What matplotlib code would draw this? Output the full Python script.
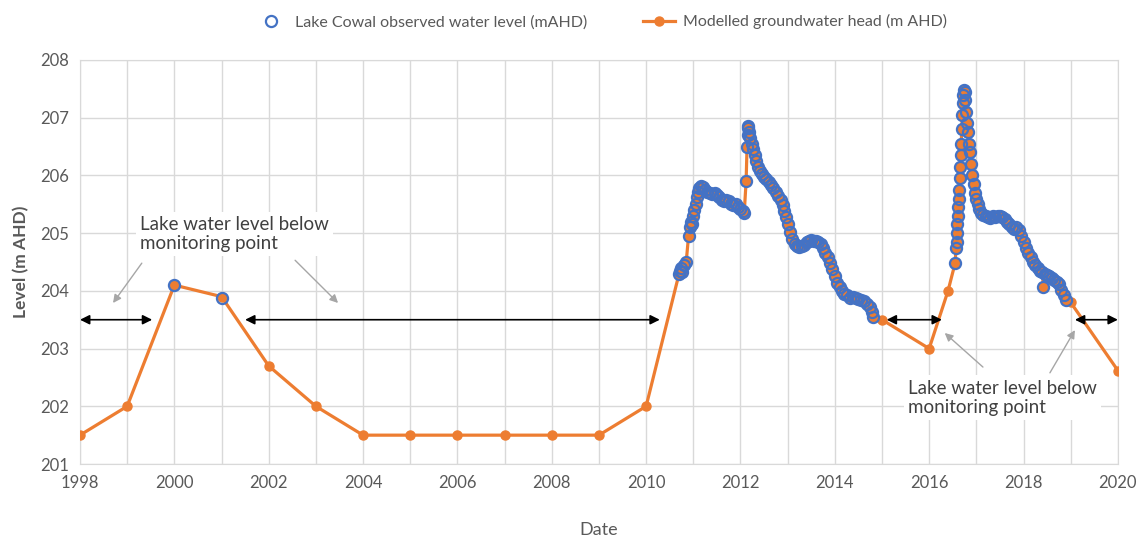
import numpy as np
import matplotlib
matplotlib.use("Agg")
import matplotlib.pyplot as plt

# modelled groundwater head, annual values before the lake filled
model_years = [1998, 1999, 2000, 2001, 2002, 2003, 2004, 2005, 2006, 2007, 2008, 2009, 2010]
model_levels = [201.5, 202.0, 204.1, 203.9, 202.7, 202.0, 201.5, 201.5, 201.5, 201.5, 201.5, 201.5, 202.0]

# modelled points between the two wet periods and after
gap_years = [2015.0, 2016.0, 2016.4]
gap_levels = [203.5, 203.0, 204.0]
tail_years = [2019.0, 2020.0]
tail_levels = [203.8, 202.62]

# observed lake levels (mAHD)
early_obs_years = [2000, 2001]
early_obs_levels = [204.1, 203.88]

obs1_years = [2010.70, 2010.72, 2010.74, 2010.76, 2010.80, 2010.85, 2010.90, 2010.92, 2010.95, 2010.97,
              2011.00, 2011.02, 2011.05, 2011.08, 2011.10, 2011.13, 2011.16, 2011.20, 2011.25, 2011.30,
              2011.35, 2011.40, 2011.45, 2011.50, 2011.55, 2011.60, 2011.65, 2011.70, 2011.75, 2011.80,
              2011.85, 2011.90, 2011.95, 2012.00, 2012.05, 2012.08, 2012.12, 2012.14, 2012.15, 2012.16,
              2012.17, 2012.19, 2012.21, 2012.24, 2012.27, 2012.30, 2012.34, 2012.38, 2012.42, 2012.46,
              2012.50, 2012.55, 2012.60, 2012.65, 2012.70, 2012.75, 2012.80, 2012.85, 2012.90, 2012.93,
              2012.96, 2013.00, 2013.05, 2013.10, 2013.15, 2013.20, 2013.25, 2013.30, 2013.35, 2013.40,
              2013.45, 2013.50, 2013.55, 2013.60, 2013.65, 2013.70, 2013.75, 2013.80, 2013.85, 2013.90,
              2013.95, 2014.00, 2014.05, 2014.10, 2014.15, 2014.20, 2014.26, 2014.32, 2014.38, 2014.44,
              2014.50, 2014.56, 2014.62, 2014.68, 2014.74, 2014.78, 2014.80]
obs1_levels = [204.30, 204.35, 204.40, 204.33, 204.45, 204.50, 204.95, 205.10, 205.20, 205.15,
               205.30, 205.40, 205.50, 205.62, 205.72, 205.78, 205.82, 205.80, 205.75, 205.72,
               205.70, 205.68, 205.70, 205.66, 205.62, 205.58, 205.55, 205.58, 205.55, 205.50,
               205.48, 205.50, 205.45, 205.42, 205.38, 205.35, 205.90, 206.50, 206.70, 206.85,
               206.82, 206.75, 206.65, 206.55, 206.45, 206.35, 206.25, 206.15, 206.08, 206.02,
               205.98, 205.93, 205.88, 205.83, 205.78, 205.72, 205.65, 205.58, 205.48, 205.38,
               205.28, 205.15, 205.02, 204.90, 204.82, 204.78, 204.76, 204.77, 204.80, 204.84,
               204.86, 204.88, 204.87, 204.86, 204.84, 204.82, 204.75, 204.66, 204.58, 204.48,
               204.38, 204.26, 204.14, 204.06, 204.00, 203.95, 203.92, 203.88, 203.90, 203.88,
               203.86, 203.84, 203.82, 203.78, 203.72, 203.64, 203.54]

obs2_years = [2016.55, 2016.57, 2016.58, 2016.59, 2016.60, 2016.61, 2016.62, 2016.63, 2016.64, 2016.65,
              2016.66, 2016.67, 2016.68, 2016.69, 2016.70, 2016.71, 2016.72, 2016.73, 2016.75, 2016.76,
              2016.78, 2016.80, 2016.82, 2016.84, 2016.86, 2016.88, 2016.91, 2016.94, 2016.97, 2017.00,
              2017.03, 2017.06, 2017.10, 2017.15, 2017.20, 2017.25, 2017.30, 2017.35, 2017.40, 2017.45,
              2017.50, 2017.55, 2017.60, 2017.65, 2017.70, 2017.75, 2017.80, 2017.85, 2017.90, 2017.95,
              2018.00, 2018.05, 2018.10, 2018.15, 2018.20, 2018.25, 2018.30, 2018.35, 2018.40, 2018.42,
              2018.45, 2018.50, 2018.55, 2018.60, 2018.65, 2018.70, 2018.75, 2018.80, 2018.85, 2018.90]
obs2_levels = [204.48, 204.75, 204.85, 205.00, 205.15, 205.30, 205.45, 205.60, 205.75, 205.95,
               206.15, 206.35, 206.55, 206.80, 207.05, 207.25, 207.40, 207.48, 207.45, 207.30,
               207.10, 206.90, 206.75, 206.55, 206.40, 206.20, 206.00, 205.85, 205.70, 205.60,
               205.50, 205.42, 205.35, 205.32, 205.30, 205.28, 205.27, 205.30, 205.28, 205.30,
               205.29, 205.28, 205.25, 205.20, 205.15, 205.10, 205.08, 205.10, 205.05, 204.95,
               204.85, 204.75, 204.65, 204.58, 204.50, 204.45, 204.40, 204.35, 204.32, 204.07,
               204.30, 204.28, 204.25, 204.22, 204.18, 204.15, 204.12, 204.02, 203.92, 203.85]

# periods when the lake was below the monitoring point
dry_spans = [(1998.0, 1999.53), (2001.5, 2010.29), (2015.1, 2016.27), (2019.09, 2020.0)]
dry_level = 203.5
note = "Lake water level below\nmonitoring point"

plt.rcParams['font.family'] = ['Lato', 'DejaVu Sans']
blue = '#4472C4'
orange = '#ED7D31'
grey_txt = '#595959'

fig = plt.figure(figsize=(11.38, 5.41), dpi=100)
ax = fig.add_axes([0.0703, 0.1423, 0.912, 0.7468])

mod_x = model_years + obs1_years + gap_years + obs2_years + tail_years
mod_y = model_levels + obs1_levels + gap_levels + obs2_levels + tail_levels
obs_x = early_obs_years + obs1_years + obs2_years
obs_y = early_obs_levels + obs1_levels + obs2_levels

ax.plot(mod_x, mod_y, color=orange, lw=2.3, marker='o', ms=6.5,
        label='Modelled groundwater head (m AHD)', zorder=3)
ax.plot(obs_x, obs_y, ls='none', marker='o', ms=8, mfc='none', mec=blue, mew=1.6,
        label='Lake Cowal observed water level (mAHD)', zorder=4)

# double arrows for the dry periods
for x0, x1 in dry_spans:
    ax.annotate('', xy=(x0, dry_level), xytext=(x1, dry_level),
                arrowprops=dict(arrowstyle='<|-|>', color='black', lw=1.2, mutation_scale=14,
                                shrinkA=0, shrinkB=0), zorder=5)

# notes with grey pointers
box = dict(facecolor='white', edgecolor='none', pad=3)
ax.text(1999.27, 204.98, note, ha='left', va='center', fontsize=13.5, color='#404040',
        bbox=box, zorder=2, linespacing=1.15)
ax.text(2015.55, 202.15, note, ha='left', va='center', fontsize=13.5, color='#404040',
        bbox=box, zorder=2, linespacing=1.15)
gray_arrow = dict(arrowstyle='-|>', color='#a6a6a6', lw=1.0, mutation_scale=12, shrinkA=0, shrinkB=0)
ax.annotate('', xy=(1998.70, 203.79), xytext=(1999.31, 204.48), arrowprops=gray_arrow)
ax.annotate('', xy=(2003.47, 203.79), xytext=(2002.56, 204.53), arrowprops=gray_arrow)
ax.annotate('', xy=(2016.33, 203.27), xytext=(2017.14, 202.68), arrowprops=gray_arrow)
ax.annotate('', xy=(2019.09, 203.32), xytext=(2018.56, 202.58), arrowprops=gray_arrow)

ax.set_xlim(1998, 2020)
ax.set_ylim(201, 208)
ax.set_xticks(np.arange(1998, 2021, 2))
ax.set_xticks(np.arange(1998, 2021, 1), minor=True)
ax.set_yticks(np.arange(201, 209, 1))
ax.grid(True, which='both', color='#d9d9d9', lw=1.0, zorder=0)
ax.set_axisbelow(True)
ax.tick_params(which='both', length=0, labelsize=12, colors=grey_txt, pad=8)
for s in ax.spines.values():
    s.set_color('#d9d9d9')

ax.set_xlabel('Date', fontsize=13, color=grey_txt, labelpad=22)
ax.set_ylabel('Level (m AHD)', fontsize=12.5, color=grey_txt, fontweight='bold', labelpad=8)

handles, labels = ax.get_legend_handles_labels()
fig.legend(handles[::-1], labels[::-1], loc='upper center', bbox_to_anchor=(0.528, 1.0), ncol=2,
           frameon=False, fontsize=11.5, labelcolor=grey_txt, columnspacing=3.5, handlelength=2.0,
           handletextpad=0.5)

fig.savefig('out.png', dpi=100)
